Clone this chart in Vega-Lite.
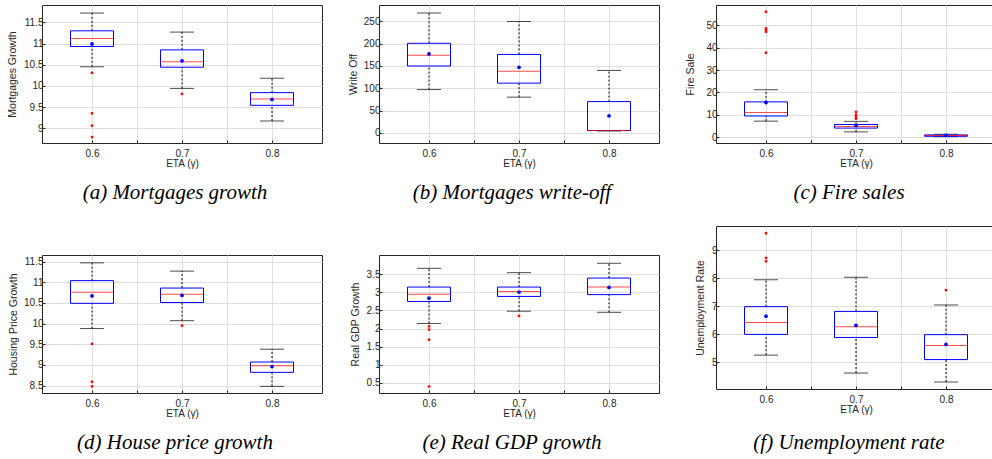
{
  "$schema": "https://vega.github.io/schema/vega-lite/v6.json",
  "padding": {"left": 6, "top": 4, "right": 0, "bottom": 0},
  "background": "white",
  "datasets": {
    "boxes": [
      {"p":"a","eta":0.6,"lo":10.45,"q1":10.93,"med":11.12,"q3":11.30,"hi":11.72,"mean":10.99},
      {"p":"a","eta":0.7,"lo":9.94,"q1":10.44,"med":10.57,"q3":10.85,"hi":11.27,"mean":10.59},
      {"p":"a","eta":0.8,"lo":9.17,"q1":9.54,"med":9.69,"q3":9.84,"hi":10.18,"mean":9.68},
      {"p":"b","eta":0.6,"lo":97,"q1":150,"med":174,"q3":201,"hi":269,"mean":177},
      {"p":"b","eta":0.7,"lo":80,"q1":111.5,"med":138,"q3":176,"hi":250,"mean":147},
      {"p":"b","eta":0.8,"lo":4,"q1":5,"med":5,"q3":70,"hi":140,"mean":38},
      {"p":"c","eta":0.6,"lo":7.2,"q1":9.5,"med":11,"q3":15.8,"hi":21.2,"mean":15.5},
      {"p":"c","eta":0.7,"lo":2.4,"q1":4.1,"med":4.8,"q3":5.7,"hi":7.1,"mean":5.3},
      {"p":"c","eta":0.8,"lo":0.3,"q1":0.45,"med":0.75,"q3":1.05,"hi":1.35,"mean":0.9},
      {"p":"d","eta":0.6,"lo":9.88,"q1":10.49,"med":10.76,"q3":11.04,"hi":11.47,"mean":10.67},
      {"p":"d","eta":0.7,"lo":10.07,"q1":10.51,"med":10.71,"q3":10.86,"hi":11.27,"mean":10.68},
      {"p":"d","eta":0.8,"lo":8.48,"q1":8.82,"med":8.98,"q3":9.07,"hi":9.38,"mean":8.96},
      {"p":"e","eta":0.6,"lo":2.14,"q1":2.75,"med":2.95,"q3":3.15,"hi":3.67,"mean":2.84},
      {"p":"e","eta":0.7,"lo":2.48,"q1":2.89,"med":3.03,"q3":3.15,"hi":3.55,"mean":3.01},
      {"p":"e","eta":0.8,"lo":2.45,"q1":2.94,"med":3.15,"q3":3.40,"hi":3.81,"mean":3.14},
      {"p":"f","eta":0.6,"lo":5.26,"q1":6.0,"med":6.42,"q3":6.99,"hi":7.95,"mean":6.65},
      {"p":"f","eta":0.7,"lo":4.62,"q1":5.89,"med":6.27,"q3":6.82,"hi":8.04,"mean":6.32},
      {"p":"f","eta":0.8,"lo":4.3,"q1":5.1,"med":5.6,"q3":5.99,"hi":7.05,"mean":5.64}
    ],
    "outliers": [
      {"p":"a","eta":0.6,"v":10.31},{"p":"a","eta":0.6,"v":9.35},{"p":"a","eta":0.6,"v":9.06},{"p":"a","eta":0.6,"v":8.79},
      {"p":"a","eta":0.7,"v":9.81},
      {"p":"c","eta":0.6,"v":56},{"p":"c","eta":0.6,"v":48.6},{"p":"c","eta":0.6,"v":48},{"p":"c","eta":0.6,"v":47.1},{"p":"c","eta":0.6,"v":37.7},
      {"p":"c","eta":0.7,"v":11.3},{"p":"c","eta":0.7,"v":10},{"p":"c","eta":0.7,"v":9.2},{"p":"c","eta":0.7,"v":8.3},
      {"p":"d","eta":0.6,"v":9.51},{"p":"d","eta":0.6,"v":8.59},{"p":"d","eta":0.6,"v":8.48},
      {"p":"d","eta":0.7,"v":9.95},
      {"p":"e","eta":0.6,"v":2.06},{"p":"e","eta":0.6,"v":1.97},{"p":"e","eta":0.6,"v":1.69},{"p":"e","eta":0.6,"v":0.39},
      {"p":"e","eta":0.7,"v":2.35},
      {"p":"f","eta":0.6,"v":9.61},{"p":"f","eta":0.6,"v":8.73},{"p":"f","eta":0.6,"v":8.61},
      {"p":"f","eta":0.8,"v":7.58}
    ]
  },
  "config": {
    "font": "Liberation Sans",
    "view": {"stroke": "#262626", "strokeWidth": 1},
    "axis": {
      "labelFont": "Liberation Sans", "labelFontSize": 10, "labelColor": "#262626", "labelOverlap": false, "labelFlush": false,
      "titleFont": "Liberation Sans", "titleFontSize": 10.5, "titleFontWeight": "normal", "titleColor": "#262626",
      "gridColor": "#dedede", "gridWidth": 1, "domain": false, "tickCount": 20,
      "tickColor": "#262626", "tickSize": -3, "labelPadding": 2, "titlePadding": 3
    },
    "axisY": {"titleBaseline": "middle"},
    "axisX": {"labelPadding": 8, "titlePadding": 0, "titleFontSize": 10},
    "title": {"orient": "bottom", "anchor": "middle", "frame": "group", "font": "Liberation Serif", "fontStyle": "italic", "fontSize": 21, "fontWeight": "normal", "color": "#000000", "offset": 14, "dx": -7}
  },
  "hconcat": [
    {
      "vconcat": [
        {
          "width": 280, "height": 138,
          "title": "(a) Mortgages growth",
          "encoding": {"x": {"field": "eta", "type": "quantitative", "scale": {"domain": [0.55, 0.85], "nice": false, "zero": false}, "axis": {"values": [0.6, 0.65, 0.7, 0.75, 0.8], "labelExpr": "datum.value == 0.65 || datum.value == 0.75 ? '' : format(datum.value, '~g')", "title": "ETA (γ)"}}},
          "layer": [
            {"data": {"name": "boxes"}, "transform": [{"filter": "datum.p == 'a'"}],
             "layer": [
              {"mark": {"type": "rule", "color": "black", "strokeDash": [2, 2], "strokeWidth": 1}, "encoding": {"y": {"field": "lo", "type": "quantitative", "scale": {"domain": [8.65, 11.91], "nice": false, "zero": false}, "axis": {"values": [9, 9.5, 10, 10.5, 11, 11.5], "tickCount": 20, "labelExpr": "format(datum.value, '~g')", "title": "Mortgages Growth", "titleX": -29.5}}, "y2": {"field": "q1"}}},
              {"mark": {"type": "rule", "color": "black", "strokeDash": [2, 2], "strokeWidth": 1}, "encoding": {"y": {"field": "q3", "type": "quantitative", "scale": {"domain": [8.65, 11.91], "nice": false, "zero": false}}, "y2": {"field": "hi"}}},
              {"mark": {"type": "tick", "orient": "horizontal", "size": 24, "thickness": 1, "color": "black"}, "encoding": {"y": {"field": "hi", "type": "quantitative", "scale": {"domain": [8.65, 11.91], "nice": false, "zero": false}}}},
              {"mark": {"type": "tick", "orient": "horizontal", "size": 24, "thickness": 1, "color": "black"}, "encoding": {"y": {"field": "lo", "type": "quantitative", "scale": {"domain": [8.65, 11.91], "nice": false, "zero": false}}}},
              {"mark": {"type": "bar", "width": 43, "fillOpacity": 0, "stroke": "#0000ff", "strokeWidth": 1}, "encoding": {"y": {"field": "q1", "type": "quantitative", "scale": {"domain": [8.65, 11.91], "nice": false, "zero": false}}, "y2": {"field": "q3"}}},
              {"mark": {"type": "tick", "orient": "horizontal", "size": 43, "thickness": 1, "color": "#ff0000"}, "encoding": {"y": {"field": "med", "type": "quantitative", "scale": {"domain": [8.65, 11.91], "nice": false, "zero": false}}}},
              {"mark": {"type": "point", "shape": "circle", "filled": true, "size": 14, "color": "#0000ff", "opacity": 1}, "encoding": {"y": {"field": "mean", "type": "quantitative", "scale": {"domain": [8.65, 11.91], "nice": false, "zero": false}}}}
             ]},
            {"data": {"name": "outliers"}, "transform": [{"filter": "datum.p == 'a'"}],
             "mark": {"type": "point", "shape": "square", "filled": true, "size": 6, "color": "#ff0000", "opacity": 1},
             "encoding": {"y": {"field": "v", "type": "quantitative", "scale": {"domain": [8.65, 11.91], "nice": false, "zero": false}}}}
          ]
        },
        {
          "width": 280, "height": 138,
          "title": "(d) House price growth",
          "encoding": {"x": {"field": "eta", "type": "quantitative", "scale": {"domain": [0.55, 0.85], "nice": false, "zero": false}, "axis": {"values": [0.6, 0.65, 0.7, 0.75, 0.8], "labelExpr": "datum.value == 0.65 || datum.value == 0.75 ? '' : format(datum.value, '~g')", "title": "ETA (γ)"}}},
          "layer": [
            {"data": {"name": "boxes"}, "transform": [{"filter": "datum.p == 'd'"}],
             "layer": [
              {"mark": {"type": "rule", "color": "black", "strokeDash": [2, 2], "strokeWidth": 1}, "encoding": {"y": {"field": "lo", "type": "quantitative", "scale": {"domain": [8.32, 11.66], "nice": false, "zero": false}, "axis": {"values": [8.5, 9, 9.5, 10, 10.5, 11, 11.5], "tickCount": 20, "labelExpr": "format(datum.value, '~g')", "title": "Housing Price Growth", "titleX": -29}}, "y2": {"field": "q1"}}},
              {"mark": {"type": "rule", "color": "black", "strokeDash": [2, 2], "strokeWidth": 1}, "encoding": {"y": {"field": "q3", "type": "quantitative", "scale": {"domain": [8.32, 11.66], "nice": false, "zero": false}}, "y2": {"field": "hi"}}},
              {"mark": {"type": "tick", "orient": "horizontal", "size": 24, "thickness": 1, "color": "black"}, "encoding": {"y": {"field": "hi", "type": "quantitative", "scale": {"domain": [8.32, 11.66], "nice": false, "zero": false}}}},
              {"mark": {"type": "tick", "orient": "horizontal", "size": 24, "thickness": 1, "color": "black"}, "encoding": {"y": {"field": "lo", "type": "quantitative", "scale": {"domain": [8.32, 11.66], "nice": false, "zero": false}}}},
              {"mark": {"type": "bar", "width": 43, "fillOpacity": 0, "stroke": "#0000ff", "strokeWidth": 1}, "encoding": {"y": {"field": "q1", "type": "quantitative", "scale": {"domain": [8.32, 11.66], "nice": false, "zero": false}}, "y2": {"field": "q3"}}},
              {"mark": {"type": "tick", "orient": "horizontal", "size": 43, "thickness": 1, "color": "#ff0000"}, "encoding": {"y": {"field": "med", "type": "quantitative", "scale": {"domain": [8.32, 11.66], "nice": false, "zero": false}}}},
              {"mark": {"type": "point", "shape": "circle", "filled": true, "size": 14, "color": "#0000ff", "opacity": 1}, "encoding": {"y": {"field": "mean", "type": "quantitative", "scale": {"domain": [8.32, 11.66], "nice": false, "zero": false}}}}
             ]},
            {"data": {"name": "outliers"}, "transform": [{"filter": "datum.p == 'd'"}],
             "mark": {"type": "point", "shape": "square", "filled": true, "size": 6, "color": "#ff0000", "opacity": 1},
             "encoding": {"y": {"field": "v", "type": "quantitative", "scale": {"domain": [8.32, 11.66], "nice": false, "zero": false}}}}
          ]
        }
      ],
      "spacing": 112,
      "bounds": "flush"
    },
    {
      "vconcat": [
        {
          "width": 280, "height": 138,
          "title": "(b) Mortgages write-off",
          "encoding": {"x": {"field": "eta", "type": "quantitative", "scale": {"domain": [0.55, 0.85], "nice": false, "zero": false}, "axis": {"values": [0.6, 0.65, 0.7, 0.75, 0.8], "labelExpr": "datum.value == 0.65 || datum.value == 0.75 ? '' : format(datum.value, '~g')", "title": "ETA (γ)"}}},
          "layer": [
            {"data": {"name": "boxes"}, "transform": [{"filter": "datum.p == 'b'"}],
             "layer": [
              {"mark": {"type": "rule", "color": "black", "strokeDash": [2, 2], "strokeWidth": 1}, "encoding": {"y": {"field": "lo", "type": "quantitative", "scale": {"domain": [-23, 287], "nice": false, "zero": false}, "axis": {"values": [0, 50, 100, 150, 200, 250], "tickCount": 20, "labelExpr": "format(datum.value, '~g')", "title": "Write Off", "titleX": -26}}, "y2": {"field": "q1"}}},
              {"mark": {"type": "rule", "color": "black", "strokeDash": [2, 2], "strokeWidth": 1}, "encoding": {"y": {"field": "q3", "type": "quantitative", "scale": {"domain": [-23, 287], "nice": false, "zero": false}}, "y2": {"field": "hi"}}},
              {"mark": {"type": "tick", "orient": "horizontal", "size": 24, "thickness": 1, "color": "black"}, "encoding": {"y": {"field": "hi", "type": "quantitative", "scale": {"domain": [-23, 287], "nice": false, "zero": false}}}},
              {"mark": {"type": "tick", "orient": "horizontal", "size": 24, "thickness": 1, "color": "black"}, "encoding": {"y": {"field": "lo", "type": "quantitative", "scale": {"domain": [-23, 287], "nice": false, "zero": false}}}},
              {"mark": {"type": "bar", "width": 43, "fillOpacity": 0, "stroke": "#0000ff", "strokeWidth": 1}, "encoding": {"y": {"field": "q1", "type": "quantitative", "scale": {"domain": [-23, 287], "nice": false, "zero": false}}, "y2": {"field": "q3"}}},
              {"mark": {"type": "tick", "orient": "horizontal", "size": 43, "thickness": 1, "color": "#ff0000"}, "encoding": {"y": {"field": "med", "type": "quantitative", "scale": {"domain": [-23, 287], "nice": false, "zero": false}}}},
              {"mark": {"type": "point", "shape": "circle", "filled": true, "size": 14, "color": "#0000ff", "opacity": 1}, "encoding": {"y": {"field": "mean", "type": "quantitative", "scale": {"domain": [-23, 287], "nice": false, "zero": false}}}}
             ]}
          ]
        },
        {
          "width": 280, "height": 138,
          "title": "(e) Real GDP growth",
          "encoding": {"x": {"field": "eta", "type": "quantitative", "scale": {"domain": [0.55, 0.85], "nice": false, "zero": false}, "axis": {"values": [0.6, 0.65, 0.7, 0.75, 0.8], "labelExpr": "datum.value == 0.65 || datum.value == 0.75 ? '' : format(datum.value, '~g')", "title": "ETA (γ)"}}},
          "layer": [
            {"data": {"name": "boxes"}, "transform": [{"filter": "datum.p == 'e'"}],
             "layer": [
              {"mark": {"type": "rule", "color": "black", "strokeDash": [2, 2], "strokeWidth": 1}, "encoding": {"y": {"field": "lo", "type": "quantitative", "scale": {"domain": [0.21, 4.04], "nice": false, "zero": false}, "axis": {"values": [0.5, 1, 1.5, 2, 2.5, 3, 3.5], "tickCount": 20, "labelExpr": "format(datum.value, '~g')", "title": "Real GDP Growth", "titleX": -23.5}}, "y2": {"field": "q1"}}},
              {"mark": {"type": "rule", "color": "black", "strokeDash": [2, 2], "strokeWidth": 1}, "encoding": {"y": {"field": "q3", "type": "quantitative", "scale": {"domain": [0.21, 4.04], "nice": false, "zero": false}}, "y2": {"field": "hi"}}},
              {"mark": {"type": "tick", "orient": "horizontal", "size": 24, "thickness": 1, "color": "black"}, "encoding": {"y": {"field": "hi", "type": "quantitative", "scale": {"domain": [0.21, 4.04], "nice": false, "zero": false}}}},
              {"mark": {"type": "tick", "orient": "horizontal", "size": 24, "thickness": 1, "color": "black"}, "encoding": {"y": {"field": "lo", "type": "quantitative", "scale": {"domain": [0.21, 4.04], "nice": false, "zero": false}}}},
              {"mark": {"type": "bar", "width": 43, "fillOpacity": 0, "stroke": "#0000ff", "strokeWidth": 1}, "encoding": {"y": {"field": "q1", "type": "quantitative", "scale": {"domain": [0.21, 4.04], "nice": false, "zero": false}}, "y2": {"field": "q3"}}},
              {"mark": {"type": "tick", "orient": "horizontal", "size": 43, "thickness": 1, "color": "#ff0000"}, "encoding": {"y": {"field": "med", "type": "quantitative", "scale": {"domain": [0.21, 4.04], "nice": false, "zero": false}}}},
              {"mark": {"type": "point", "shape": "circle", "filled": true, "size": 14, "color": "#0000ff", "opacity": 1}, "encoding": {"y": {"field": "mean", "type": "quantitative", "scale": {"domain": [0.21, 4.04], "nice": false, "zero": false}}}}
             ]},
            {"data": {"name": "outliers"}, "transform": [{"filter": "datum.p == 'e'"}],
             "mark": {"type": "point", "shape": "square", "filled": true, "size": 6, "color": "#ff0000", "opacity": 1},
             "encoding": {"y": {"field": "v", "type": "quantitative", "scale": {"domain": [0.21, 4.04], "nice": false, "zero": false}}}}
          ]
        }
      ],
      "spacing": 112,
      "bounds": "flush"
    },
    {
      "vconcat": [
        {
          "width": 280, "height": 138,
          "title": "(c) Fire sales",
          "encoding": {"x": {"field": "eta", "type": "quantitative", "scale": {"domain": [0.55, 0.85], "nice": false, "zero": false}, "axis": {"values": [0.6, 0.65, 0.7, 0.75, 0.8], "labelExpr": "datum.value == 0.65 || datum.value == 0.75 ? '' : format(datum.value, '~g')", "title": "ETA (γ)"}}},
          "layer": [
            {"data": {"name": "boxes"}, "transform": [{"filter": "datum.p == 'c'"}],
             "layer": [
              {"mark": {"type": "rule", "color": "black", "strokeDash": [2, 2], "strokeWidth": 1}, "encoding": {"y": {"field": "lo", "type": "quantitative", "scale": {"domain": [-2.55, 59], "nice": false, "zero": false}, "axis": {"values": [0, 10, 20, 30, 40, 50], "tickCount": 20, "labelExpr": "format(datum.value, '~g')", "title": "Fire Sale", "titleX": -26}}, "y2": {"field": "q1"}}},
              {"mark": {"type": "rule", "color": "black", "strokeDash": [2, 2], "strokeWidth": 1}, "encoding": {"y": {"field": "q3", "type": "quantitative", "scale": {"domain": [-2.55, 59], "nice": false, "zero": false}}, "y2": {"field": "hi"}}},
              {"mark": {"type": "tick", "orient": "horizontal", "size": 24, "thickness": 1, "color": "black"}, "encoding": {"y": {"field": "hi", "type": "quantitative", "scale": {"domain": [-2.55, 59], "nice": false, "zero": false}}}},
              {"mark": {"type": "tick", "orient": "horizontal", "size": 24, "thickness": 1, "color": "black"}, "encoding": {"y": {"field": "lo", "type": "quantitative", "scale": {"domain": [-2.55, 59], "nice": false, "zero": false}}}},
              {"mark": {"type": "bar", "width": 43, "fillOpacity": 0, "stroke": "#0000ff", "strokeWidth": 1}, "encoding": {"y": {"field": "q1", "type": "quantitative", "scale": {"domain": [-2.55, 59], "nice": false, "zero": false}}, "y2": {"field": "q3"}}},
              {"mark": {"type": "tick", "orient": "horizontal", "size": 43, "thickness": 1, "color": "#ff0000"}, "encoding": {"y": {"field": "med", "type": "quantitative", "scale": {"domain": [-2.55, 59], "nice": false, "zero": false}}}},
              {"mark": {"type": "point", "shape": "circle", "filled": true, "size": 14, "color": "#0000ff", "opacity": 1}, "encoding": {"y": {"field": "mean", "type": "quantitative", "scale": {"domain": [-2.55, 59], "nice": false, "zero": false}}}}
             ]},
            {"data": {"name": "outliers"}, "transform": [{"filter": "datum.p == 'c'"}],
             "mark": {"type": "point", "shape": "square", "filled": true, "size": 6, "color": "#ff0000", "opacity": 1},
             "encoding": {"y": {"field": "v", "type": "quantitative", "scale": {"domain": [-2.55, 59], "nice": false, "zero": false}}}}
          ]
        },
        {
          "width": 280, "height": 163,
          "title": {"text": "(f) Unemployment rate", "offset": 18},
          "encoding": {"x": {"field": "eta", "type": "quantitative", "scale": {"domain": [0.55, 0.85], "nice": false, "zero": false}, "axis": {"values": [0.6, 0.65, 0.7, 0.75, 0.8], "labelExpr": "datum.value == 0.65 || datum.value == 0.75 ? '' : format(datum.value, '~g')", "title": "ETA (γ)"}}},
          "layer": [
            {"data": {"name": "boxes"}, "transform": [{"filter": "datum.p == 'f'"}],
             "layer": [
              {"mark": {"type": "rule", "color": "black", "strokeDash": [2, 2], "strokeWidth": 1}, "encoding": {"y": {"field": "lo", "type": "quantitative", "scale": {"domain": [4.05, 9.87], "nice": false, "zero": false}, "axis": {"values": [5, 6, 7, 8, 9], "tickCount": 20, "labelExpr": "format(datum.value, '~g')", "title": "Unemployment Rate", "titleX": -15.5}}, "y2": {"field": "q1"}}},
              {"mark": {"type": "rule", "color": "black", "strokeDash": [2, 2], "strokeWidth": 1}, "encoding": {"y": {"field": "q3", "type": "quantitative", "scale": {"domain": [4.05, 9.87], "nice": false, "zero": false}}, "y2": {"field": "hi"}}},
              {"mark": {"type": "tick", "orient": "horizontal", "size": 24, "thickness": 1, "color": "black"}, "encoding": {"y": {"field": "hi", "type": "quantitative", "scale": {"domain": [4.05, 9.87], "nice": false, "zero": false}}}},
              {"mark": {"type": "tick", "orient": "horizontal", "size": 24, "thickness": 1, "color": "black"}, "encoding": {"y": {"field": "lo", "type": "quantitative", "scale": {"domain": [4.05, 9.87], "nice": false, "zero": false}}}},
              {"mark": {"type": "bar", "width": 43, "fillOpacity": 0, "stroke": "#0000ff", "strokeWidth": 1}, "encoding": {"y": {"field": "q1", "type": "quantitative", "scale": {"domain": [4.05, 9.87], "nice": false, "zero": false}}, "y2": {"field": "q3"}}},
              {"mark": {"type": "tick", "orient": "horizontal", "size": 43, "thickness": 1, "color": "#ff0000"}, "encoding": {"y": {"field": "med", "type": "quantitative", "scale": {"domain": [4.05, 9.87], "nice": false, "zero": false}}}},
              {"mark": {"type": "point", "shape": "circle", "filled": true, "size": 14, "color": "#0000ff", "opacity": 1}, "encoding": {"y": {"field": "mean", "type": "quantitative", "scale": {"domain": [4.05, 9.87], "nice": false, "zero": false}}}}
             ]},
            {"data": {"name": "outliers"}, "transform": [{"filter": "datum.p == 'f'"}],
             "mark": {"type": "point", "shape": "square", "filled": true, "size": 6, "color": "#ff0000", "opacity": 1},
             "encoding": {"y": {"field": "v", "type": "quantitative", "scale": {"domain": [4.05, 9.87], "nice": false, "zero": false}}}}
          ]
        }
      ],
      "spacing": 83,
      "bounds": "flush"
    }
  ],
  "spacing": 24
}
